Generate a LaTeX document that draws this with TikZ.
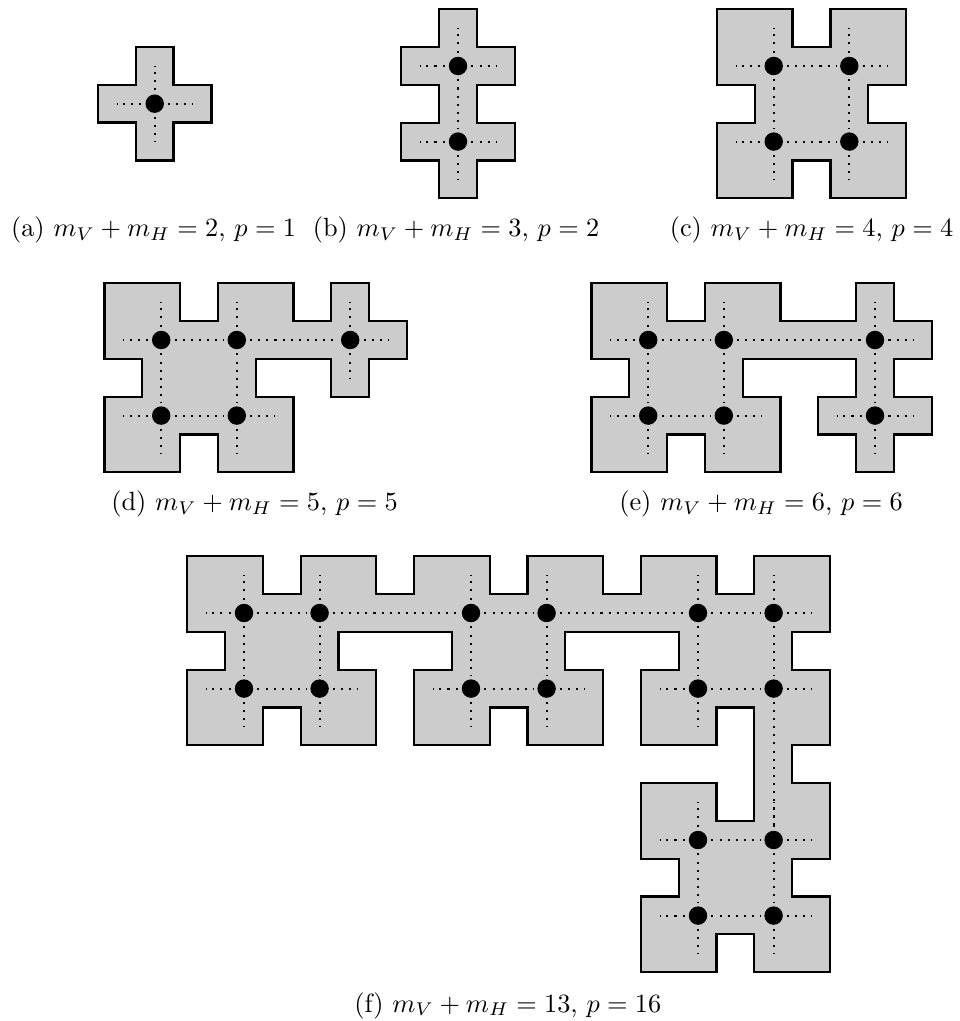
\documentclass[tikz,border=0pt]{standalone}
\usepackage{amsmath}

\begin{document}
\begin{tikzpicture}[
    x=0.1335mm, y=-0.1335mm,
    region/.style = {draw=black, fill=black!20, line width=0.88pt, x=5.046mm, y=-5.046mm},
    crossing/.style = {circle, fill=black, inner sep=0pt, minimum size=7pt, outer sep=1.6pt},
    link/.style = {line width=0.78pt, dash pattern=on 0.78pt off 2.29pt},
    caption/.style = {anchor=base, inner sep=0pt},
]
\useasboundingbox (0,0) rectangle (959,1021);

%% ---- Shaded regions ----
\draw[shift={(98,47)}, region] (1,0) -- (2,0) -- (2,1) -- (3,1) -- (3,2) -- (2,2) -- (2,3) -- (1,3)
    -- (1,2) -- (0,2) -- (0,1) -- (1,1) -- cycle;
\draw[shift={(401.3,9.3)}, region] (1,0) -- (2,0) -- (2,1) -- (3,1) -- (3,2) -- (2,2) -- (2,3) -- (3,3)
    -- (3,4) -- (2,4) -- (2,5) -- (1,5) -- (1,4) -- (0,4) -- (0,3) -- (1,3) -- (1,2) -- (0,2) -- (0,1)
    -- (1,1) -- cycle;
\draw[shift={(717,9.3)}, region] (0,0) -- (2,0) -- (2,1) -- (3,1) -- (3,0) -- (5,0) -- (5,2) -- (4,2)
    -- (4,3) -- (5,3) -- (5,5) -- (3,5) -- (3,4) -- (2,4) -- (2,5) -- (0,5) -- (0,3) -- (1,3) -- (1,2)
    -- (0,2) -- cycle;
\draw[shift={(104.5,283.3)}, region] (0,0) -- (2,0) -- (2,1) -- (3,1) -- (3,0) -- (5,0) -- (5,1) -- (6,1)
    -- (6,0) -- (7,0) -- (7,1) -- (8,1) -- (8,2) -- (7,2) -- (7,3) -- (6,3) -- (6,2) -- (4,2) -- (4,3)
    -- (5,3) -- (5,5) -- (3,5) -- (3,4) -- (2,4) -- (2,5) -- (0,5) -- (0,3) -- (1,3) -- (1,2) -- (0,2)
    -- cycle;
\draw[shift={(591.5,283.3)}, region] (0,0) -- (2,0) -- (2,1) -- (3,1) -- (3,0) -- (5,0) -- (5,1) -- (7,1)
    -- (7,0) -- (8,0) -- (8,1) -- (9,1) -- (9,2) -- (8,2) -- (8,3) -- (9,3) -- (9,4) -- (8,4) -- (8,5)
    -- (7,5) -- (7,4) -- (6,4) -- (6,3) -- (7,3) -- (7,2) -- (4,2) -- (4,3) -- (5,3) -- (5,5) -- (3,5)
    -- (3,4) -- (2,4) -- (2,5) -- (0,5) -- (0,3) -- (1,3) -- (1,2) -- (0,2) -- cycle;
\draw[shift={(187.3,556.3)}, region] (0,0) -- (2,0) -- (2,1) -- (3,1) -- (3,0) -- (5,0) -- (5,1) -- (6,1)
    -- (6,0) -- (8,0) -- (8,1) -- (9,1) -- (9,0) -- (11,0) -- (11,1) -- (12,1) -- (12,0) -- (14,0)
    -- (14,1) -- (15,1) -- (15,0) -- (17,0) -- (17,2) -- (16,2) -- (16,3) -- (17,3) -- (17,5) -- (16,5)
    -- (16,6) -- (17,6) -- (17,8) -- (16,8) -- (16,9) -- (17,9) -- (17,11) -- (15,11) -- (15,10)
    -- (14,10) -- (14,11) -- (12,11) -- (12,9) -- (13,9) -- (13,8) -- (12,8) -- (12,6) -- (14,6)
    -- (14,7) -- (15,7) -- (15,4) -- (14,4) -- (14,5) -- (12,5) -- (12,3) -- (13,3) -- (13,2) -- (10,2)
    -- (10,3) -- (11,3) -- (11,5) -- (9,5) -- (9,4) -- (8,4) -- (8,5) -- (6,5) -- (6,3) -- (7,3)
    -- (7,2) -- (4,2) -- (4,3) -- (5,3) -- (5,5) -- (3,5) -- (3,4) -- (2,4) -- (2,5) -- (0,5) -- (0,3)
    -- (1,3) -- (1,2) -- (0,2) -- cycle;

%% ---- Crossings ----
\node[crossing] (a1) at (154.7, 103.7) {};

\node[crossing] (b1) at (458, 66) {};
\node[crossing] (b2) at (458, 141.6) {};

\node[crossing] (c1) at (773.7, 66) {};
\node[crossing] (c2) at (849.3, 66) {};
\node[crossing] (c3) at (773.7, 141.6) {};
\node[crossing] (c4) at (849.3, 141.6) {};

\node[crossing] (d1) at (161.2, 340) {};
\node[crossing] (d2) at (236.8, 340) {};
\node[crossing] (d3) at (350.2, 340) {};
\node[crossing] (d4) at (161.2, 415.6) {};
\node[crossing] (d5) at (236.8, 415.6) {};

\node[crossing] (e1) at (648.2, 340) {};
\node[crossing] (e2) at (723.8, 340) {};
\node[crossing] (e3) at (875, 340) {};
\node[crossing] (e4) at (648.2, 415.6) {};
\node[crossing] (e5) at (723.8, 415.6) {};
\node[crossing] (e6) at (875, 415.6) {};

\node[crossing] (f1) at (244, 613) {};
\node[crossing] (f2) at (319.6, 613) {};
\node[crossing] (f3) at (471, 613) {};
\node[crossing] (f4) at (546.6, 613) {};
\node[crossing] (f5) at (698, 613) {};
\node[crossing] (f6) at (773.6, 613) {};
\node[crossing] (f7) at (244, 688.6) {};
\node[crossing] (f8) at (319.6, 688.6) {};
\node[crossing] (f9) at (471, 688.6) {};
\node[crossing] (f10) at (546.6, 688.6) {};
\node[crossing] (f11) at (698, 688.6) {};
\node[crossing] (f12) at (773.6, 688.6) {};
\node[crossing] (f13) at (698, 840) {};
\node[crossing] (f14) at (773.6, 840) {};
\node[crossing] (f15) at (698, 915.6) {};
\node[crossing] (f16) at (773.6, 915.6) {};

%% ---- Dotted links between crossings ----
\foreach \from/\to in {b1/b2, c1/c2, c3/c4, c1/c3, c2/c4,
    d1/d2, d2/d3, d4/d5, d1/d4, d2/d5,
    e1/e2, e2/e3, e4/e5, e1/e4, e2/e5, e3/e6,
    f1/f2, f2/f3, f3/f4, f4/f5, f5/f6, f7/f8, f9/f10, f11/f12, f13/f14, f15/f16,
    f1/f7, f2/f8, f3/f9, f4/f10, f5/f11, f6/f12, f12/f14, f13/f15, f14/f16}
    \draw[link] (\from) -- (\to);

%% ---- Dotted free ends ----
\foreach \name in {a1, b1, b2, c1, c3, d1, d4, e1, e4, e6, f1, f7, f9, f11, f13, f15}
    \draw[link] (\name) -- +(-38,0);
\foreach \name in {a1, b1, b2, c2, c4, d3, d5, e3, e5, e6, f6, f8, f10, f12, f14, f16}
    \draw[link] (\name) -- +(38,0);
\foreach \name in {a1, b1, c1, c2, d1, d2, d3, e1, e2, e3, f1, f2, f3, f4, f5, f6, f13, f14}
    \draw[link] (\name) -- +(0,-38);
\foreach \name in {a1, b2, c3, c4, d3, d4, d5, e4, e5, e6, f7, f8, f9, f10, f11, f12, f15, f16}
    \draw[link] (\name) -- +(0,38);

%% ---- Captions ----
\node[caption] (capa) at (153.5, 237) {(a) $m_V + m_H = 2$, $p = 1$};
\node[caption] (capb) at (456, 237) {(b) $m_V + m_H = 3$, $p = 2$};
\node[caption] (capc) at (811.5, 237) {(c) $m_V + m_H = 4$, $p = 4$};
\node[caption] (capd) at (254.5, 511) {(d) $m_V + m_H = 5$, $p = 5$};
\node[caption] (cape) at (761, 511) {(e) $m_V + m_H = 6$, $p = 6$};
\node[caption] (capf) at (507.8, 1012) {(f) $m_V + m_H = 13$, $p = 16$};

\end{tikzpicture}
\end{document}
